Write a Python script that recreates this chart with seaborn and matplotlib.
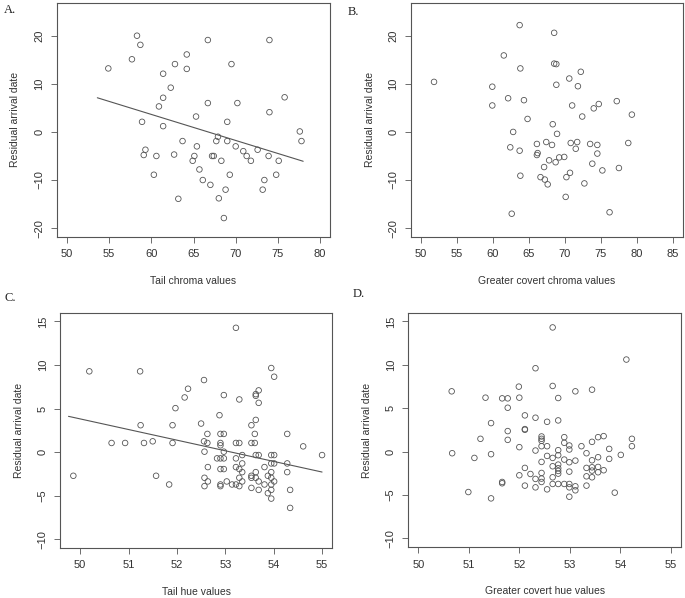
import numpy as np
import pandas as pd
import seaborn as sns
import matplotlib.pyplot as plt

# --- Panel A: tail chroma ---
tail_chroma = [54.9, 58.3, 58.7, 57.7, 58.9, 59.3, 59.1, 60.6, 60.3, 60.9,
               61.4, 61.4, 61.4, 62.3, 62.8, 62.7, 63.2, 63.7, 64.2, 64.2,
               65.3, 65.4, 65.1, 64.9, 65.7, 66.1, 66.7, 66.7, 67.2, 67.4,
               67.0, 67.7, 67.9, 68.0, 68.3, 68.6, 68.8, 69.0, 69.0, 69.3,
               69.5, 70.0, 70.2, 70.9, 71.3, 71.8, 72.6, 73.2, 73.4, 73.9,
               74.0, 74.0, 74.8, 75.1, 75.8, 77.6, 77.8]
resid_a = [13.2, 20.0, 18.1, 15.1, 2.1, -3.7, -4.8, -5.0, -8.9, 5.3,
           12.1, 7.1, 1.2, 9.2, 14.1, -4.7, -13.9, -1.9, 16.1, 13.1,
           3.2, -3.0, -5.0, -6.0, -7.8, -10.0, 19.1, 6.0, -5.0, -5.0,
           -11.0, -1.9, -1.0, -13.8, -6.0, -17.9, -12.0, 2.1, -1.9, -8.9,
           14.1, -3.0, 6.0, -4.0, -5.0, -6.0, -3.7, -12.0, -10.0, -5.0,
           4.1, 19.1, -8.9, -6.0, 7.2, 0.1, -1.9]
fit_a_x = [53.6, 78.0]
fit_a_y = [7.1, -6.1]

# --- Panel B: greater covert chroma ---
covert_chroma = [51.8, 59.9, 59.9, 61.5, 62.1, 62.4, 62.6, 62.8, 63.7, 63.8,
                 63.7, 63.8, 64.3, 64.8, 66.1, 66.2, 66.1, 66.6, 67.1, 67.2,
                 67.4, 67.6, 67.8, 68.2, 68.3, 68.5, 68.8, 68.5, 68.8, 68.9,
                 68.7, 69.2, 69.9, 70.1, 70.2, 70.6, 70.7, 70.8, 71.0, 71.5,
                 71.7, 71.8, 72.2, 72.4, 72.7, 73.5, 73.8, 74.0, 74.5, 74.5,
                 74.7, 75.2, 76.2, 77.2, 77.5, 78.8, 79.3]
resid_b = [10.4, 9.4, 5.5, 15.9, 7.0, -3.2, -17.0, 0.0, 22.2, 13.2,
           -3.9, -9.1, 6.6, 2.7, -2.5, -4.4, -4.8, -9.4, -7.3, -9.9,
           -2.1, -10.9, -5.9, -2.7, 1.6, 14.2, 14.1, 20.6, 9.8, -0.4,
           -6.3, -5.3, -5.2, -13.5, -9.4, 11.1, -8.5, -2.3, 5.5, -3.5,
           -2.1, 9.5, 12.5, 3.2, -10.7, -2.5, -6.6, 4.9, -2.7, -4.5,
           5.8, -8.0, -16.7, 6.4, -7.5, -2.3, 3.6]

# --- Panel C: tail hue ---
tail_hue = [49.86, 50.19, 50.65, 50.93, 51.24, 51.25, 51.32, 51.50, 51.57, 51.84,
            51.91, 51.91, 51.97, 52.16, 52.23, 52.50, 52.56, 52.56, 52.57, 52.57,
            52.57, 52.63, 52.63, 52.64, 52.64, 52.83, 52.88, 52.90, 52.90, 52.90,
            52.90, 52.90, 52.90, 52.90, 52.97, 52.97, 52.97, 52.97, 52.97, 53.03,
            53.14, 53.22, 53.22, 53.22, 53.22, 53.22, 53.29, 53.29, 53.29, 53.29,
            53.29, 53.35, 53.35, 53.35, 53.35, 53.54, 53.54, 53.54, 53.54, 53.54,
            53.61, 53.61, 53.63, 53.63, 53.63, 53.63, 53.63, 53.63, 53.69, 53.69,
            53.69, 53.69, 53.69, 53.81, 53.81, 53.88, 53.88, 53.95, 53.95, 53.95,
            53.95, 53.95, 53.95, 53.95, 53.95, 54.01, 54.01, 54.01, 54.01, 54.28,
            54.28, 54.28, 54.34, 54.34, 54.61, 55.00]
resid_c = [-2.73, 9.27, 1.04, 1.04, 9.27, 3.08, 1.04, 1.23, -2.73, -3.73,
           3.08, 1.04, 5.04, 6.27, 7.27, 3.27, 8.27, 1.23, 0.04, -2.96,
           -3.92, 2.08, 1.04, -1.73, -3.38, -0.73, 4.23, 2.08, 1.04, 0.77,
           -0.73, -1.96, -3.73, -3.92, 6.54, 2.08, 0.04, -0.73, -1.96, -3.38,
           -3.73, 14.27, 1.04, -0.73, -1.73, -3.73, 6.04, 1.04, -1.96, -2.96,
           -3.92, -0.35, -1.31, -2.31, -3.38, 3.08, 1.04, -2.73, -2.96, -4.12,
           1.04, 2.08, 3.69, 6.65, 6.46, -0.35, -2.31, -2.96, 7.08, 5.65,
           -0.35, -3.38, -4.35, -1.73, -3.73, -2.73, -4.73, 9.65, -0.35, -1.31,
           -2.31, -2.96, -3.73, -4.35, -5.35, 8.65, -0.35, -1.31, -3.38, 2.08,
           -1.31, -2.31, -4.35, -6.42, 0.65, -0.35]
fit_c_x = [49.76, 55.0]
fit_c_y = [4.1, -2.3]

# --- Panel D: greater covert hue ---
covert_hue = [50.66, 50.67, 50.99, 51.11, 51.23, 51.33, 51.44, 51.44, 51.44, 51.66,
              51.66, 51.66, 51.77, 51.77, 51.77, 51.77, 51.99, 52.00, 52.00, 52.00,
              52.11, 52.11, 52.11, 52.11, 52.11, 52.22, 52.32, 52.32, 52.32, 52.32,
              52.32, 52.44, 52.44, 52.44, 52.44, 52.44, 52.44, 52.44, 52.44, 52.55,
              52.55, 52.55, 52.55, 52.66, 52.66, 52.66, 52.66, 52.66, 52.66, 52.77,
              52.77, 52.77, 52.77, 52.77, 52.77, 52.77, 52.77, 52.77, 52.89, 52.89,
              52.89, 52.89, 52.99, 52.99, 52.99, 52.99, 52.99, 52.99, 52.99, 53.11,
              53.11, 53.11, 53.11, 53.23, 53.33, 53.33, 53.33, 53.33, 53.44, 53.44,
              53.44, 53.44, 53.44, 53.44, 53.56, 53.56, 53.56, 53.56, 53.67, 53.67,
              53.78, 53.78, 53.89, 54.01, 54.12, 54.23, 54.23]
resid_d = [6.95, -0.18, -4.65, -0.72, 1.48, 6.22, 3.29, -0.29, -5.38, -3.64,
           -3.49, 6.14, 6.14, 5.06, 2.37, 1.36, 7.49, 6.22, 0.52, -2.72,
           4.18, 2.60, 2.52, -1.87, -3.91, -2.57, 9.61, 3.91, 0.13, -3.14,
           -4.11, 1.75, 1.48, 1.25, 0.63, -1.18, -2.45, -3.10, -3.49, 3.44,
           0.63, -0.49, -4.34, 14.31, 7.57, -0.72, -1.68, -2.95, -3.72, 6.18,
           3.60, 0.17, -0.41, -1.49, -1.91, -2.22, -2.53, -3.72, 1.67, 1.02,
           -0.91, -3.72, 0.71, 0.25, -1.22, -2.30, -3.72, -4.11, -5.19, 6.95,
           -1.03, -3.99, -4.45, 0.63, -0.18, -1.87, -2.84, -3.91, 7.14, 1.13,
           -0.99, -1.80, -2.18, -2.95, 1.67, -0.64, -1.76, -2.37, 1.79, -2.14,
           0.32, -0.83, -4.72, -0.37, 10.61, 1.48, 0.63]

sns.set_style("ticks")
plt.rcParams['font.family'] = ['Liberation Sans', 'DejaVu Sans']

EDGE = '#555555'
TXT = '#333333'

fig = plt.figure(figsize=(6.85, 5.98), dpi=100)

panels = [
    # (position, x, y, fit line, xlim, ylim, xticks, yticks, xlabel, letter, letter pos)
    ([0.083, 0.604, 0.399, 0.391], tail_chroma, resid_a, (fit_a_x, fit_a_y),
     (48.8, 81.2), (-21.8, 26.8), np.arange(50, 81, 5), np.arange(-20, 21, 10),
     'Tail chroma values', 'A.', (0.006, 0.983)),
    ([0.600, 0.604, 0.397, 0.391], covert_chroma, resid_b, None,
     (48.6, 86.4), (-21.8, 26.8), np.arange(50, 86, 5), np.arange(-20, 21, 10),
     'Greater covert chroma values', 'B.', (0.508, 0.980)),
    ([0.088, 0.084, 0.397, 0.393], tail_hue, resid_c, (fit_c_x, fit_c_y),
     (49.59, 55.21), (-11, 16), np.arange(50, 56, 1), np.arange(-10, 16, 5),
     'Tail hue values', 'C.', (0.006, 0.502)),
    ([0.596, 0.085, 0.398, 0.392], covert_hue, resid_d, None,
     (49.8, 55.2), (-11, 16), np.arange(50, 56, 1), np.arange(-10, 16, 5),
     'Greater covert hue values', 'D.', (0.515, 0.508)),
]

for pos, xs, ys, fit, xlim, ylim, xt, yt, xlabel, letter, lpos in panels:
    ax = fig.add_axes(pos)
    df = pd.DataFrame({'x': xs, 'y': ys})
    sns.scatterplot(data=df, x='x', y='y', ax=ax, marker='o', s=16,
                    facecolor='none', edgecolor=EDGE, linewidth=0.6)
    if fit is not None:
        sns.lineplot(x=fit[0], y=fit[1], ax=ax, color=EDGE, linewidth=0.8)
    ax.set_xlim(*xlim)
    ax.set_ylim(*ylim)
    ax.set_xticks(xt)
    ax.set_yticks(yt)
    ax.set_xticklabels([str(v) for v in xt])
    ax.set_yticklabels([str(v).replace('-', '\u2212') for v in yt],
                       rotation=90, va='center')
    ax.tick_params(direction='out', length=4, width=0.6, colors=EDGE,
                   labelcolor=TXT, labelsize=8, pad=5)
    for sp in ax.spines.values():
        sp.set_visible(True)
        sp.set_color(EDGE)
        sp.set_linewidth(0.8)
    ax.set_xlabel(xlabel, fontsize=7.5, color=TXT, labelpad=12)
    ax.set_ylabel('Residual arrival date', fontsize=7.5, color=TXT, labelpad=10)
    fig.text(lpos[0], lpos[1], letter, fontsize=9, family='Liberation Serif',
             color='#222222', va='center', ha='left')

fig.savefig('out.png', dpi=100)
